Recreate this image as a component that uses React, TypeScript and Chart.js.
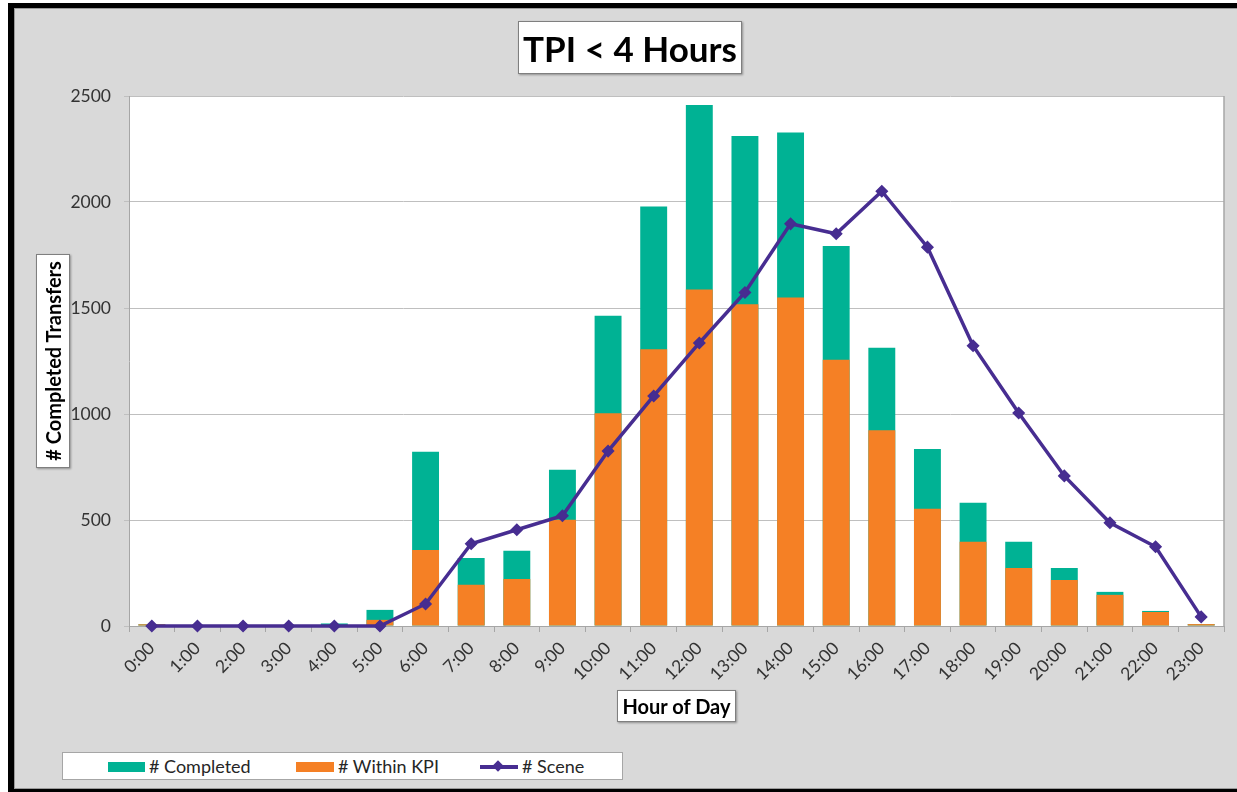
import React, { useEffect, useRef } from "react";
import { Chart, registerables } from "chart.js";

Chart.register(...registerables);

const hours = [
  "0:00", "1:00", "2:00", "3:00", "4:00", "5:00", "6:00", "7:00", "8:00", "9:00", "10:00", "11:00",
  "12:00", "13:00", "14:00", "15:00", "16:00", "17:00", "18:00", "19:00", "20:00", "21:00", "22:00", "23:00",
];
const completed = [8, 0, 0, 0, 12, 76, 822, 321, 355, 737, 1464, 1979, 2457, 2311, 2328, 1793, 1313, 835, 581, 397, 274, 161, 71, 9];
const withinKPI = [8, 0, 0, 0, 4, 29, 359, 194, 222, 501, 1003, 1305, 1587, 1518, 1549, 1256, 923, 553, 397, 274, 217, 147, 66, 9];
const scene = [0, 0, 0, 0, 0, 0, 104, 388, 454, 520, 825, 1085, 1335, 1573, 1897, 1850, 2051, 1787, 1322, 1005, 708, 487, 374, 43];
const yTicks = [0, 500, 1000, 1500, 2000, 2500];

const TEAL = "#00B294";
const ORANGE = "#F58025";
const PURPLE = "#472D91";
const FONT = "Lato, 'Open Sans', sans-serif";

const plotBg = {
  id: "plotBg",
  beforeDraw(chart: any) {
    const { ctx, chartArea: a } = chart;
    ctx.save();
    ctx.fillStyle = "#ffffff";
    ctx.fillRect(a.left, a.top, a.right - a.left, a.bottom - a.top);
    ctx.restore();
  },
  afterDatasetsDraw(chart: any) {
    const { ctx, chartArea: a } = chart;
    ctx.save();
    ctx.strokeStyle = "#a6a6a6";
    ctx.lineWidth = 1.5;
    ctx.beginPath();
    ctx.moveTo(a.right, a.top);
    ctx.lineTo(a.right, a.bottom);
    ctx.stroke();
    ctx.restore();
  },
};

export default function App() {
  const ref = useRef<HTMLCanvasElement | null>(null);

  useEffect(() => {
    if (!ref.current) return;
    const chart = new Chart(ref.current, {
      type: "bar",
      data: {
        labels: hours,
        datasets: [
          {
            type: "line",
            label: "# Scene",
            data: scene,
            borderColor: PURPLE,
            backgroundColor: PURPLE,
            borderWidth: 3.5,
            pointStyle: "rectRot",
            pointRadius: 5.5,
            pointBorderWidth: 1.5,
            tension: 0,
            order: 0,
            clip: false,
          } as any,
          {
            label: "# Within KPI",
            data: withinKPI,
            backgroundColor: ORANGE,
            grouped: false,
            order: 1,
            barPercentage: 0.59,
            categoryPercentage: 1,
          } as any,
          {
            label: "# Completed",
            data: completed,
            backgroundColor: TEAL,
            grouped: false,
            order: 2,
            barPercentage: 0.59,
            categoryPercentage: 1,
          } as any,
        ],
      },
      options: {
        responsive: false,
        animation: false,
        devicePixelRatio: 1,
        layout: { padding: { left: 0, top: 96, right: 13, bottom: 0 } },
        plugins: {
          legend: { display: false },
          title: { display: false },
          tooltip: { enabled: false },
        },
        scales: {
          x: {
            offset: true,
            grid: {
              offset: true,
              drawOnChartArea: false,
              tickLength: 6,
              color: "#a6a6a6",
            },
            border: { color: "#a6a6a6", width: 1 },
            ticks: {
              minRotation: 45,
              maxRotation: 45,
              autoSkip: false,
              padding: 6,
              color: "#333333",
              font: { family: FONT, size: 17.5 },
            },
            afterFit: (s: any) => {
              s.height = 166;
            },
          },
          y: {
            min: 0,
            max: 2500,
            afterBuildTicks: (s: any) => {
              s.ticks = yTicks.map((v) => ({ value: v }));
            },
            grid: { color: "#bfbfbf", tickLength: 5, lineWidth: 1 },
            border: { color: "#a6a6a6", width: 1 },
            ticks: {
              padding: 13,
              color: "#333333",
              font: { family: FONT, size: 17.5 },
              callback: (v: any) => String(v),
            },
            afterFit: (s: any) => {
              s.width = 129;
            },
          },
        },
      } as any,
      plugins: [plotBg],
    });
    return () => chart.destroy();
  }, []);

  const box: React.CSSProperties = {
    position: "absolute",
    background: "#ffffff",
    border: "1px solid #7f7f7f",
    boxShadow: "1px 1px 2px rgba(0,0,0,0.35)",
    boxSizing: "border-box",
  };
  const legendText: React.CSSProperties = {
    position: "absolute",
    top: 753,
    height: 26,
    lineHeight: "26px",
    fontFamily: FONT,
    fontSize: 18,
    color: "#262626",
    whiteSpace: "nowrap",
  };

  return (
    <div style={{ position: "fixed", left: 0, top: 0, width: 1237, height: 792, overflow: "hidden", background: "#ffffff" }}>
      <div
        style={{
          position: "absolute",
          left: 8,
          top: 3,
          width: 1229,
          height: 789,
          boxSizing: "border-box",
          background: "#d9d9d9",
          borderTop: "5px solid #000",
          borderLeft: "6px solid #000",
          borderBottom: "3px solid #000",
          boxShadow: "inset 1px 1px 0 #9a9a9a, inset 0 -1px 0 #9a9a9a",
        }}
      />
      <canvas ref={ref} width={1237} height={792} style={{ position: "absolute", left: 0, top: 0, width: 1237, height: 792 }} />
      <div
        style={{
          ...box,
          left: 518,
          top: 21,
          width: 224,
          height: 53,
          display: "flex",
          alignItems: "center",
          justifyContent: "center",
          fontFamily: FONT,
          fontWeight: 700,
          fontSize: 35,
          color: "#000",
          whiteSpace: "nowrap",
        }}
      >
        TPI &lt; 4 Hours
      </div>
      <div style={{ ...box, left: 36, top: 254, width: 34, height: 214 }}>
        <div
          style={{
            position: "absolute",
            left: "50%",
            top: "50%",
            transform: "translate(-50%, -50%) rotate(-90deg)",
            fontFamily: FONT,
            fontWeight: 700,
            fontSize: 20,
            color: "#000",
            whiteSpace: "nowrap",
          }}
        >
          # Completed Transfers
        </div>
      </div>
      <div
        style={{
          ...box,
          left: 617,
          top: 690,
          width: 119,
          height: 32,
          display: "flex",
          alignItems: "center",
          justifyContent: "center",
          fontFamily: FONT,
          fontWeight: 700,
          fontSize: 20,
          color: "#000",
          whiteSpace: "nowrap",
        }}
      >
        Hour of Day
      </div>
      <div style={{ ...box, left: 62, top: 752, width: 561, height: 28, border: "1px solid #a6a6a6", boxShadow: "none" }} />
      <div style={{ position: "absolute", left: 108, top: 762, width: 37, height: 10, background: TEAL }} />
      <div style={{ ...legendText, left: 149 }}># Completed</div>
      <div style={{ position: "absolute", left: 296, top: 762, width: 38, height: 10, background: ORANGE }} />
      <div style={{ ...legendText, left: 338 }}># Within KPI</div>
      <div style={{ position: "absolute", left: 480, top: 765, width: 38, height: 3.5, background: PURPLE }} />
      <div style={{ position: "absolute", left: 494, top: 761.5, width: 8, height: 8, background: PURPLE, transform: "rotate(45deg)" }} />
      <div style={{ ...legendText, left: 522 }}># Scene</div>
    </div>
  );
}
